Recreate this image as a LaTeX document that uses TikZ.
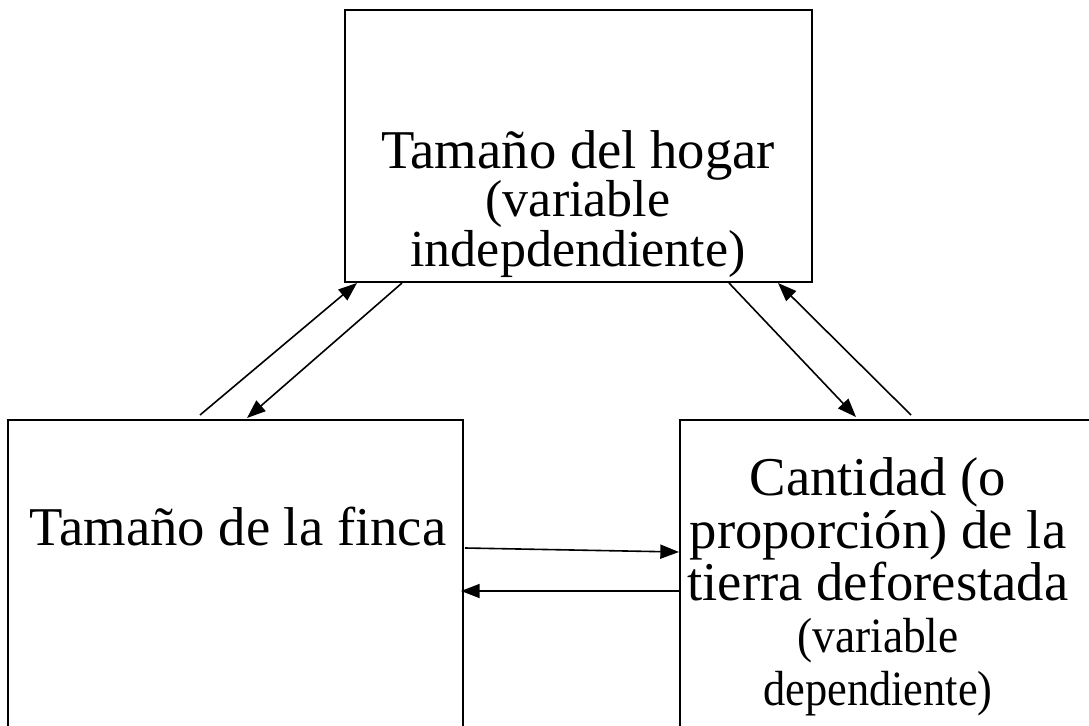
\documentclass[tikz,border=0pt]{standalone}
\usepackage{fontspec}
\setmainfont{Liberation Serif}
\usetikzlibrary{arrows.meta,calc}
\begin{document}
\begin{tikzpicture}[x=0.75pt,y=-0.75pt,
  box/.style={draw,line width=1.5pt,rectangle,inner sep=0pt},
  big/.style={font=\fontsize{41}{48}\selectfont,anchor=base,inner sep=0pt},
  small/.style={font=\fontsize{37}{44}\selectfont,anchor=base,inner sep=0pt},
  topsmall/.style={font=\fontsize{39}{46}\selectfont,anchor=base,inner sep=0pt},
  link/.style={line width=1.2pt,-{Triangle[length=14pt,width=10.5pt]}}]
\useasboundingbox (0,0) rectangle (1089,725);
\begin{scope}
\clip (0,0) rectangle (1089,725);
\node[box,minimum width=350.25pt,minimum height=204pt] (top) at (578.5,146) {};
\node[box,minimum width=341.25pt,minimum height=270pt] (left) at (235.5,600) {};
\node[box,minimum width=337.5pt,minimum height=270pt] (right) at (905,600) {};
\end{scope}
% texts
\node[big] (t1) at (578,168) {Tamaño del hogar};
\node[topsmall] (t2) at (578,216) {(variable};
\node[topsmall] (t3) at (578,266) {indepdendiente)};
\node[big] (l1) at (238,545) {Tamaño de la finca};
\node[big] (r1) at (878,495) {Cantidad (o};
\node[big] (r2) at (878,548) {proporción) de la};
\node[big] (r3) at (878,600) {tierra deforestada};
\node[small] (r4) at (878,652) {\scalebox{0.92}[1]{(variable}};
\node[small] (r5) at (878,705) {\scalebox{0.9}[1]{dependiente)}};
% connector end points
\coordinate (a1s) at (200,415);
\coordinate (a1e) at (357,283);
\coordinate (a2s) at (402,283);
\coordinate (a2e) at (247,418);
\coordinate (a3s) at (729,283);
\coordinate (a3e) at (856,417);
\coordinate (a4s) at (911,415);
\coordinate (a4e) at (778,283);
\coordinate (a5s) at (465,548);
\coordinate (a5e) at (679,552);
\coordinate (a6s) at (680,591);
\coordinate (a6e) at (461,591);
\draw[link] (a1s) -- (a1e);
\draw[link] (a2s) -- (a2e);
\draw[link] (a3s) -- (a3e);
\draw[link] (a4s) -- (a4e);
\draw[link] (a5s) -- (a5e);
\draw[link] (a6s) -- (a6e);
\end{tikzpicture}
\end{document}
